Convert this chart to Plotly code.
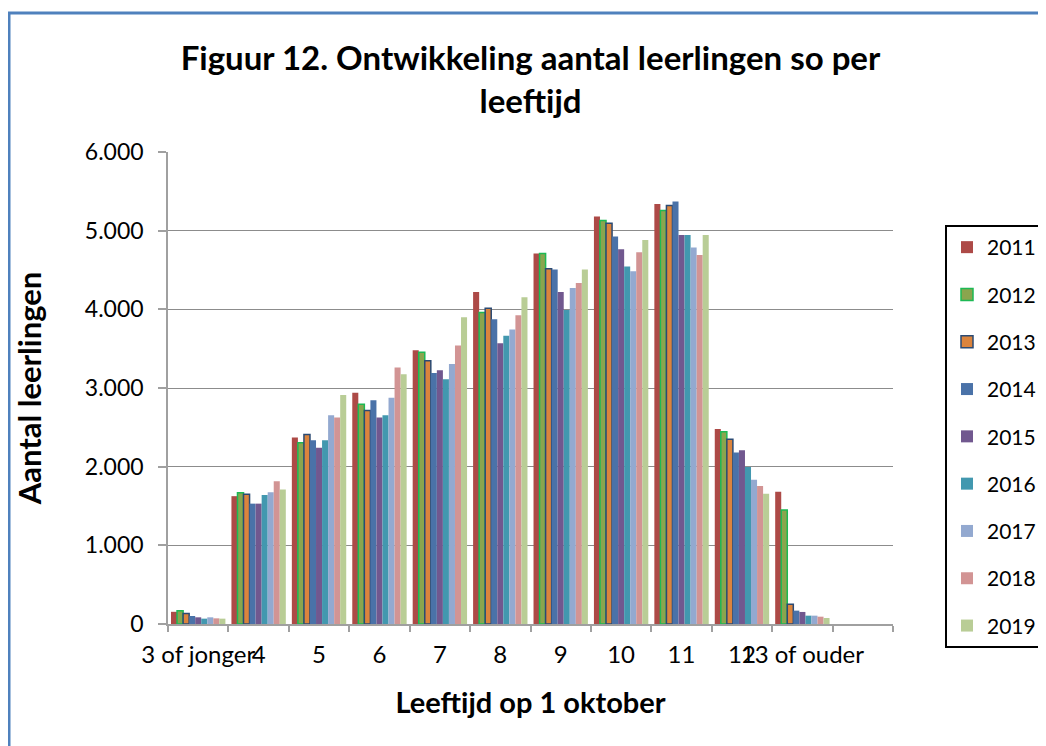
import plotly.graph_objects as go

categories = ["3 of jonger", "4", "5", "6", "7", "8", "9", "10", "11", "12", "13 of ouder", ""]
years = ["2011", "2012", "2013", "2014", "2015", "2016", "2017", "2018", "2019"]

# values per year, one per category (last category is empty)
v2011 = [155, 1625, 2370, 2940, 3480, 4220, 4710, 5180, 5340, 2480, 1680, None]
v2012 = [168, 1670, 2305, 2795, 3455, 3960, 4710, 5130, 5255, 2445, 1450, None]
v2013 = [135, 1650, 2410, 2715, 3345, 4015, 4515, 5095, 5320, 2350, 250, None]
v2014 = [102, 1530, 2335, 2845, 3190, 3875, 4505, 4925, 5370, 2180, 170, None]
v2015 = [85, 1530, 2240, 2625, 3225, 3570, 4220, 4765, 4945, 2210, 153, None]
v2016 = [68, 1640, 2335, 2655, 3110, 3665, 3990, 4545, 4945, 1995, 106, None]
v2017 = [85, 1675, 2655, 2875, 3305, 3745, 4270, 4485, 4785, 1835, 106, None]
v2018 = [72, 1815, 2625, 3260, 3540, 3925, 4335, 4725, 4690, 1755, 93, None]
v2019 = [68, 1710, 2910, 3175, 3900, 4155, 4505, 4880, 4945, 1655, 76, None]

series = [v2011, v2012, v2013, v2014, v2015, v2016, v2017, v2018, v2019]
colors = ["#AD4A47", "#8AA54E", "#DB843D", "#4A72A8", "#71588F",
          "#4298AF", "#93A9D0", "#D29494", "#B9CD96"]
line_colors = [None, "#1DB954", "#2B4A73", None, None, None, None, None, None]

FONT = "Lato"
xpos = list(range(len(categories)))

fig = go.Figure()
for i, (yr, vals) in enumerate(zip(years, series)):
    lc = line_colors[i]
    fig.add_trace(go.Bar(
        x=xpos, y=vals, name=yr,
        marker=dict(color=colors[i],
                    line=dict(color=lc if lc else colors[i], width=1.5 if lc else 0)),
        legendgroup=yr,
    ))

# page has an 8px body margin, so the figure is 8px smaller and offset
OFF = 8
W, H = 1046 - OFF, 746 - OFF
L, R, T, B = 168 - OFF, 153, 152 - OFF, 122
pw, ph = W - L - R, H - T - B

def px(xpage):
    return (xpage - OFF - L) / pw

def py(ypage):
    return (H - B - (ypage - OFF)) / ph

fig.update_layout(
    width=W, height=H,
    margin=dict(l=L, r=R, t=T, b=B, autoexpand=False),
    paper_bgcolor="white", plot_bgcolor="white",
    barmode="group", bargap=0.1, bargroupgap=0,
    separators=",.",
    font=dict(family=FONT, color="black"),
    title=dict(text="<b>Figuur 12. Ontwikkeling aantal leerlingen so per<br>leeftijd</b>",
               x=0.5, xref="paper", xanchor="center",
               y=1 - (80 - OFF - 10) / H, yref="container", yanchor="middle",
               font=dict(size=33, family=FONT, color="black")),
    showlegend=True,
    legend=dict(x=px(945), y=py(225), xanchor="left", yanchor="top",
                bordercolor="black", borderwidth=2, bgcolor="white",
                font=dict(size=21, family=FONT, color="black"),
                tracegroupgap=17, traceorder="grouped"),
    xaxis=dict(range=[-0.5, len(categories) - 0.5], automargin=False,
               tickmode="array", tickvals=xpos, ticktext=categories, tickangle=0,
               ticks="", showgrid=False, ticklabelstandoff=8,
               showline=True, linecolor="#A0A0A0", linewidth=1.5,
               tickfont=dict(size=24, family=FONT, color="black"),
               minor=dict(ticks="outside", tick0=-0.5, dtick=1, ticklen=6,
                          tickcolor="#A0A0A0", tickwidth=1.5, showgrid=False),
               title=dict(text="<b>Leeftijd op 1 oktober</b>", standoff=26,
                          font=dict(size=29, family=FONT, color="black"))),
    yaxis=dict(range=[0, 6000], tickmode="array", automargin=False,
               tickvals=[0, 1000, 2000, 3000, 4000, 5000, 6000],
               tickformat=",.0f", ticklabelstandoff=10,
               showgrid=True, gridcolor="#8C8C8C", gridwidth=1.2,
               showline=True, linecolor="#A0A0A0", linewidth=1.5,
               ticks="outside", ticklen=8, tickcolor="#A0A0A0", tickwidth=1.5,
               zeroline=False,
               tickfont=dict(size=23, family=FONT, color="black"),
               title=dict(text="<b>Aantal leerlingen</b>", standoff=34,
                          font=dict(size=31, family=FONT, color="black"))),
)

# outer blue chart frame (only left and top edges visible)
fig.add_shape(type="rect", xref="paper", yref="paper",
              x0=px(9), x1=px(1046 + 20),
              y0=py(746 + 20), y1=py(13),
              line=dict(color="#4F81BD", width=3), layer="below")

fig.write_html("out.html")
